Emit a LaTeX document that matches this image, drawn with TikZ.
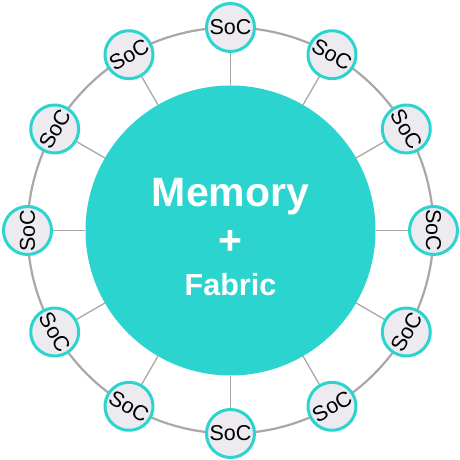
\documentclass[tikz,border=0pt]{standalone}
\usepackage{fontspec}
\setmainfont{Liberation Sans}
\definecolor{teal1}{HTML}{2BD4CF}
\definecolor{socfill}{HTML}{EDEAF0}
\definecolor{ringgray}{HTML}{A8A8A8}
\begin{document}
\begin{tikzpicture}[x=1pt,y=1pt,
  soc/.style={circle,draw=teal1,line width=3pt,fill=socfill,minimum size=48pt,inner sep=0pt,font=\fontsize{21.5}{21.5}\selectfont},
  spoke/.style={draw=ringgray,line width=1.3pt},
  ring/.style={draw=ringgray,line width=2.2pt},
  core/.style={circle,fill=teal1,minimum size=290pt,inner sep=0pt},
  bigtext/.style={text=white,font=\fontsize{41}{41}\selectfont\bfseries},
  midtext/.style={text=white,font=\fontsize{30.5}{30.5}\selectfont\bfseries}]
\useasboundingbox (0,0) rectangle (460,460);
\coordinate (c) at (230.5,229.5);
\draw[ring] (c) circle[radius=203];
\node[core] (mem) at (c) {};
\node[bigtext,anchor=base] (t1) at (230.5,253) {Memory};
\node[bigtext] (t2) at (230.5,218) {+};
\node[midtext,anchor=base] (t3) at (230.5,164.5) {Fabric};
\foreach \a/\r [count=\i] in {90/0,60/-30,30/-60,0/-90,-30/60,-60/30,-90/0,-120/-30,-150/-60,180/90,150/60,120/30}{
  \node[soc,rotate=\r] (s\i) at ([shift={(\a:203)}]c) {SoC};
  \draw[spoke] (mem) -- (s\i);
}
\end{tikzpicture}
\end{document}
